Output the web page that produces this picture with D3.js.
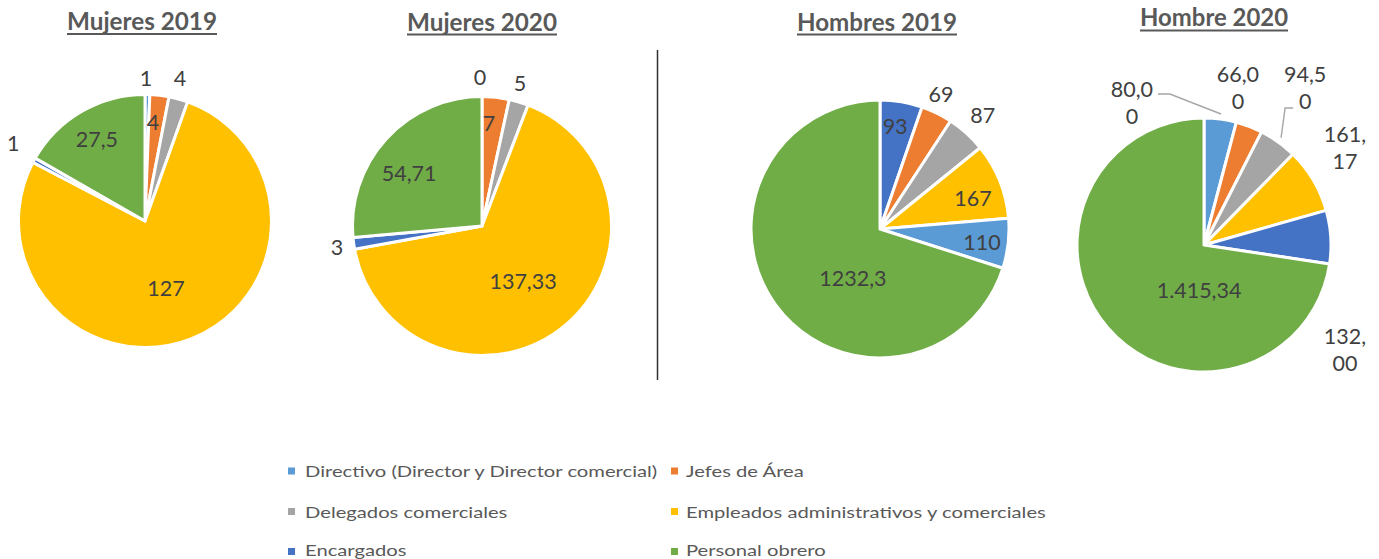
<!DOCTYPE html>
<html><head><meta charset="utf-8">
<script src="https://cdn.jsdelivr.net/npm/d3@7"></script>
<style>body{margin:0;background:#fff} svg{display:block}</style>
</head><body><svg id="c" width="1379" height="559"></svg>
<script>
// ---------- DATA ----------
const categories = [
  "Directivo (Director y Director comercial)",
  "Jefes de Área",
  "Delegados comerciales",
  "Empleados administrativos y comerciales",
  "Encargados",
  "Personal obrero"
];
const titles = ["Mujeres 2019", "Mujeres 2020", "Hombres 2019", "Hombre 2020"];
// values per category (same order as categories)
const mujeres2019 = [1, 4, 4, 127, 1, 27.5];
const mujeres2020 = [0, 7, 5, 137.33, 3, 54.71];
const hombres2019 = [110, 69, 87, 167, 93, 1232.3];
const hombre2020  = [80, 66, 94.5, 161.17, 132, 1415.34];
// order in which the categories appear as slices (clockwise from 12 o'clock)
const sliceOrder = [[0,1,2,3,4,5],[0,1,2,3,4,5],[4,1,2,3,0,5],[0,1,2,3,4,5]];
const labelFormats = ["~f", "~f", "~f", ",.2f"];

// ---------- STYLE / LAYOUT ----------
const colors = ["#5B9BD5", "#ED7D31", "#A5A5A5", "#FFC000", "#4472C4", "#70AD47"];
const locale = d3.formatLocale({decimal: ",", thousands: ".", grouping: [3], currency: ["", "€"]});
const layout = [
  {cx: 145, cy: 221, r: 126.5, tx: 142, ty: 30, tw: 150, uy: 34,
   lab: [[1.13,-0.7],[0.785,-2],[1.163,-1.6],[0.555,3.9],[1.21,1.9],[0.745,-0.6]]},
  {cx: 482, cy: 226, r: 129.5, tx: 482, ty: 31, tw: 150, uy: 34.5,
   lab: [[1.15,-0.8],[0.797,-2.2],[1.143,-1.6],[0.53,3],[1.131,-0.5],[0.692,-6.9]]},
  {cx: 880, cy: 229, r: 129, tx: 877, ty: 31, tw: 160, uy: 34.5,
   lab: [[0.80,-1.1],[1.148,-1.8],[1.185,0.2],[0.76,3.5],[0.797,0.9],[0.44,-25.4]]},
  {cx: 1204, cy: 245, r: 127, tx: 1214, ty: 26, tw: 148, uy: 30.5,
   wrap: [4, 4, 4, 4, 4, 0],
   lab: [[1.254,-34.3],[1.265,-8.7],[1.47,-2.9],[1.347,-3.8],[1.384,40.3],[0.357,-43]],
   leaders: [{slice: 0, pts: [[26,-9],[38,-9]]}, {slice: 2, pts: [[-12,20],[-20,20]]}]}
];
const seriesValues = [mujeres2019, mujeres2020, hombres2019, hombre2020];

const svg = d3.select("#c");
const pie = d3.pie().sort(null).value(d => d.value);
const LABEL_FONT = "Lato, 'Open Sans', sans-serif";

layout.forEach((L, p) => {
  const vals = seriesValues[p];
  const fmt = locale.format(labelFormats[p]);
  const data = sliceOrder[p].map(ci => ({cat: ci, value: vals[ci], text: fmt(vals[ci])}));
  const arcs = pie(data);
  const arc = d3.arc().innerRadius(0).outerRadius(L.r);
  const g = svg.append("g").attr("transform", `translate(${L.cx},${L.cy})`);
  g.selectAll("path").data(arcs).join("path")
    .attr("d", arc)
    .attr("fill", d => colors[d.data.cat])
    .attr("stroke", "#fff").attr("stroke-width", 3).attr("stroke-linejoin", "round");

  const pos = (a, i) => {
    const [k, dA] = L.lab[i];
    const ang = (a.startAngle + a.endAngle) / 2 + dA * Math.PI / 180;
    return [k * L.r * Math.sin(ang), -k * L.r * Math.cos(ang)];
  };

  // leader lines
  (L.leaders || []).forEach(ld => {
    const a = arcs[ld.slice];
    const [lx, ly] = pos(a, ld.slice);
    const mid = (a.startAngle + a.endAngle) / 2;
    const end = [1.04 * L.r * Math.sin(mid), -1.04 * L.r * Math.cos(mid)];
    const pts = ld.pts.map(q => [lx + q[0], ly + q[1]]).concat([end]);
    g.append("path").attr("d", d3.line()(pts))
      .attr("fill", "none").attr("stroke", "#A6A6A6").attr("stroke-width", 1.4);
  });

  arcs.forEach((a, i) => {
    const [x, y] = pos(a, i);
    const t = g.append("text").attr("x", x).attr("y", y)
      .attr("text-anchor", "middle")
      .attr("font-family", LABEL_FONT).attr("font-size", 21.5).attr("fill", "#404040");
    const s = a.data.text;
    const w = L.wrap ? L.wrap[i] : 0;
    if (w) {
      const lines = [s.slice(0, w), s.slice(w)];
      lines.forEach((ln, j) => t.append("tspan").attr("x", x)
        .attr("y", y + (j === 0 ? -13.5 : 13.5)).attr("dy", "0.35em").text(ln));
    } else {
      t.attr("dy", "0.35em").text(s);
    }
  });

  // title
  svg.append("text").attr("x", L.tx).attr("y", L.ty)
    .attr("text-anchor", "middle").attr("font-family", LABEL_FONT)
    .attr("font-weight", "bold").attr("font-size", 24.5).attr("fill", "#595959")
    .attr("textLength", L.tw).attr("lengthAdjust", "spacingAndGlyphs")
    .text(titles[p]);
  svg.append("line").attr("x1", L.tx - L.tw / 2).attr("x2", L.tx + L.tw / 2)
    .attr("y1", L.uy).attr("y2", L.uy).attr("stroke", "#595959").attr("stroke-width", 1.8);
});

// divider
svg.append("line").attr("x1", 657.5).attr("x2", 657.5).attr("y1", 50).attr("y2", 380)
  .attr("stroke", "#333").attr("stroke-width", 1.5);

// legend
const colMarkX = [288, 671], colTextX = [305, 686];
const rowMarkY = [471, 511.5, 551.5], rowBase = [477, 517.5, 556];
const lg = svg.append("g");
const items = categories.map((c, i) => ({c, i, col: i % 2, row: Math.floor(i / 2)}));
lg.selectAll("rect").data(items).join("rect")
  .attr("x", d => colMarkX[d.col]).attr("y", d => rowMarkY[d.row] - 3.5)
  .attr("width", 7).attr("height", 7).attr("fill", d => colors[d.i]);
const lt = lg.selectAll("text").data(items).join("text")
  .attr("x", d => colTextX[d.col]).attr("y", d => rowBase[d.row])
  .attr("font-family", LABEL_FONT).attr("font-size", 16).attr("fill", "#595959")
  .text(d => d.c);
const nodes = lt.nodes();
const w0 = nodes[0].getComputedTextLength(), w3 = nodes[3].getComputedTextLength();
const factor = (345 + 367) / (w0 + w3);
lt.each(function() {
  const w = this.getComputedTextLength();
  d3.select(this).attr("textLength", w * factor).attr("lengthAdjust", "spacingAndGlyphs");
});
</script></body></html>
